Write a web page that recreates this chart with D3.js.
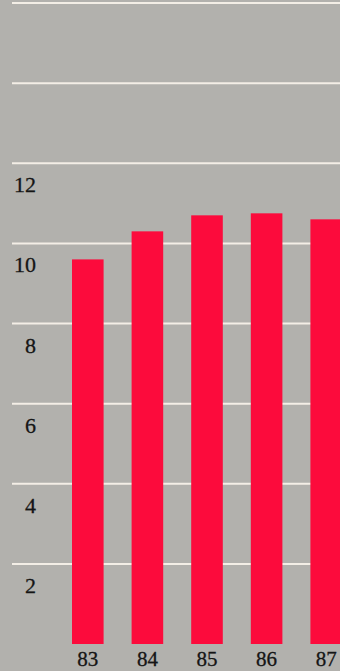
<!DOCTYPE html>
<html>
<head>
<meta charset="utf-8">
<script src="https://cdn.jsdelivr.net/npm/d3@7"></script>
<style>
  html, body { margin: 0; padding: 0; background: #b2b1ad; }
  svg { display: block; }
</style>
</head>
<body>
<svg id="chart" width="340" height="671"></svg>
<script>
// Yearly values, '83 to '87
const years = ["83", "84", "85", "86", "87"];
const values = [9.6, 10.3, 10.7, 10.75, 10.6];
// Horizontal rules and the ones that carry a label
const gridValues = [2, 4, 6, 8, 10, 12, 14, 16];
const tickLabels = [2, 4, 6, 8, 10, 12];

const W = 340, H = 671;
const svg = d3.select("#chart");

svg.append("rect").attr("width", W).attr("height", H).attr("fill", "#b2b1ad");

const y = d3.scaleLinear().domain([0, 16]).range([644, 3]);
const x = d3.scaleBand()
  .domain(years)
  .range([72, 342])
  .paddingInner(0.47)
  .paddingOuter(0)
  .align(0);

// rules
svg.append("g")
  .selectAll("line")
  .data(gridValues)
  .join("line")
  .attr("x1", 12)
  .attr("x2", W)
  .attr("y1", d => y(d))
  .attr("y2", d => y(d))
  .attr("stroke", "#f3eee6")
  .attr("stroke-width", 2);

// value labels, set just under each rule
svg.append("g")
  .selectAll("text")
  .data(tickLabels)
  .join("text")
  .attr("x", 36)
  .attr("y", d => y(d) + 29)
  .attr("text-anchor", "end")
  .attr("font-family", "'Liberation Serif', 'DejaVu Serif', serif")
  .attr("font-size", 22)
  .attr("fill", "#151515")
  .attr("stroke", "#151515")
  .attr("stroke-width", 0.3)
  .text(d => d);

// bars
svg.append("g")
  .selectAll("rect")
  .data(values)
  .join("rect")
  .attr("x", (d, i) => x(years[i]))
  .attr("width", x.bandwidth())
  .attr("y", d => y(d))
  .attr("height", d => y(0) - y(d))
  .attr("fill", "#fc0b3c");

// year labels
svg.append("g")
  .selectAll("text")
  .data(years)
  .join("text")
  .attr("x", d => x(d) + x.bandwidth() / 2)
  .attr("y", 666)
  .attr("text-anchor", "middle")
  .attr("font-family", "'Liberation Serif', 'DejaVu Serif', serif")
  .attr("font-size", 21)
  .attr("fill", "#151515")
  .attr("stroke", "#151515")
  .attr("stroke-width", 0.3)
  .text(d => d);
</script>
</body>
</html>
